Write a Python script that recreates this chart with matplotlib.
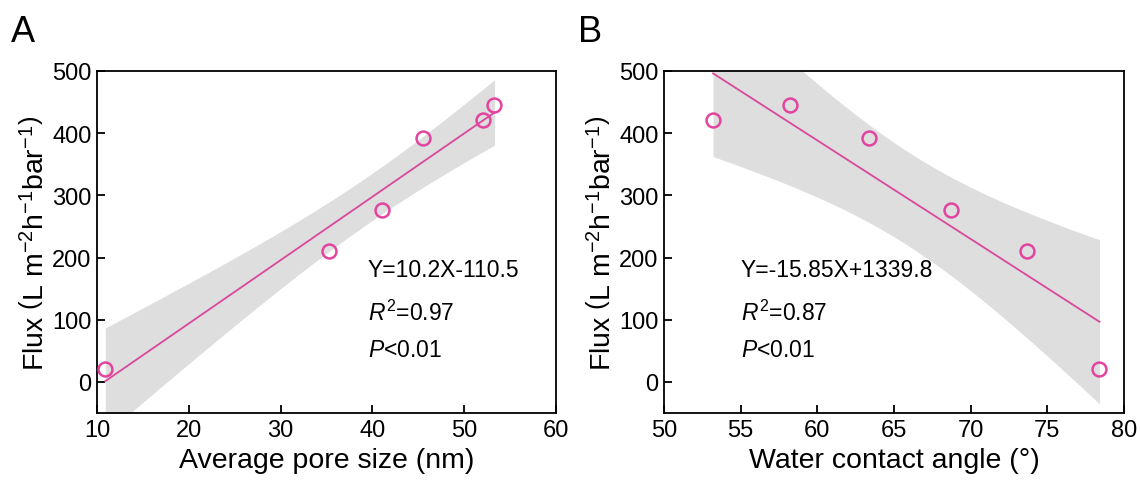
import numpy as np
import matplotlib
matplotlib.use("Agg")
import matplotlib.pyplot as plt

plt.rcParams['font.family'] = ['Liberation Sans', 'DejaVu Sans']
plt.rcParams['mathtext.fontset'] = 'custom'
plt.rcParams['mathtext.rm'] = 'Liberation Sans'
plt.rcParams['mathtext.it'] = 'Liberation Sans:italic'

# Panel A data
pore_size = [10.9, 35.3, 41.0, 45.5, 52.0, 53.3]
flux_a = [20, 210, 277, 392, 422, 445]
# Panel B data
contact_angle = [53.2, 58.2, 63.4, 68.7, 73.7, 78.4]
flux_b = [422, 445, 392, 277, 210, 20]

ann_a = ["Y=10.2X-110.5", r"$\it{R}^2$=0.97", r"$\it{P}$<0.01"]
ann_b = ["Y=-15.85X+1339.8", r"$\it{R}^2$=0.87", r"$\it{P}$<0.01"]

T_CRIT = 2.776  # t(0.975, df=4)
LINE_C = "#d9489b"
MARK_C = "#e2449f"
BAND_C = "#dedede"

fig = plt.figure(figsize=(11.4, 4.81), dpi=100)
axA = fig.add_axes([97/1140, 67/481, 459/1140, 342/481])
axB = fig.add_axes([664/1140, 67/481, 460/1140, 342/481])

YLABEL = r"Flux $\left(\mathrm{L\ m^{-2}h^{-1}bar^{-1}}\right)$"


def panel(ax, x, y, xlim, xticks, xlabel, ann, ann_x, letter, letter_x):
    x = np.asarray(x, float)
    y = np.asarray(y, float)
    b, a = np.polyfit(x, y, 1)
    xs = np.linspace(x.min(), x.max(), 200)
    fit = a + b * xs
    n = len(x)
    resid = y - (a + b * x)
    s = np.sqrt(np.sum(resid ** 2) / (n - 2))
    sxx = np.sum((x - x.mean()) ** 2)
    se = s * np.sqrt(1 / n + (xs - x.mean()) ** 2 / sxx)
    ax.fill_between(xs, fit - T_CRIT * se, fit + T_CRIT * se,
                    color=BAND_C, lw=0, zorder=1)
    ax.plot(xs, fit, color=LINE_C, lw=1.3, zorder=2)
    ax.plot(x, y, 'o', ms=10, mfc='none', mec=MARK_C, mew=1.8, zorder=3)
    ax.set_xlim(*xlim)
    ax.set_ylim(-50, 500)
    ax.set_xticks(xticks)
    ax.set_yticks([0, 100, 200, 300, 400, 500])
    ax.tick_params(direction='in', length=6, width=1.3, labelsize=17, pad=4)
    for sp in ax.spines.values():
        sp.set_linewidth(1.3)
    ax.set_xlabel(xlabel, fontsize=20.5, labelpad=5)
    ax.set_ylabel(YLABEL, fontsize=20.5, labelpad=2)
    for i, t in enumerate(ann):
        fig.text(ann_x / 1140, 1 - [271, 313, 351][i] / 481, t, fontsize=16.5,
                 va='center', ha='left')
    fig.text(letter_x / 1140, 1 - 33 / 481, letter, fontsize=26,
             va='center', ha='left')


panel(axA, pore_size, flux_a, (10, 60), [10, 20, 30, 40, 50, 60],
      "Average pore size (nm)", ann_a, 368, "A", 11)
panel(axB, contact_angle, flux_b, (50, 80), [50, 55, 60, 65, 70, 75, 80],
      "Water contact angle (°)", ann_b, 741, "B", 578)

fig.savefig("out.png", dpi=100)
